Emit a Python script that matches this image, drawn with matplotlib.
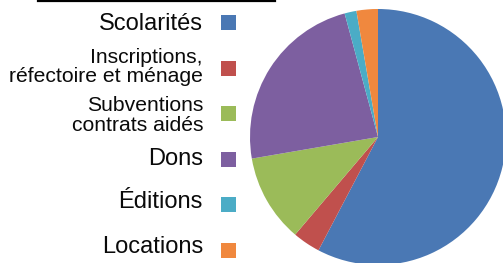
import matplotlib
matplotlib.use("Agg")
import matplotlib.pyplot as plt
from matplotlib.patches import Rectangle
from matplotlib.lines import Line2D

categories = ["Scolarités", "Inscriptions,\nréfectoire et ménage", "Subventions\ncontrats aidés",
              "Dons", "Éditions", "Locations"]
values = [57.7, 3.5, 11.1, 23.5, 1.5, 2.7]
colors = ["#4A78B4", "#C0504D", "#9BBB59", "#7D5FA0", "#4BACC6", "#F0883E"]

W, H = 503, 263
fig = plt.figure(figsize=(W / 100, H / 100), dpi=100)
plt.rcParams['font.family'] = ['Liberation Sans', 'DejaVu Sans']

# pie
cx, cy, r = 378, 137, 128
ax = fig.add_axes([(cx - r) / W, (H - cy - r) / H, 2 * r / W, 2 * r / H])
ax.pie(values, colors=colors, startangle=90, counterclock=False, radius=1,
       wedgeprops=dict(linewidth=0))
ax.set_xlim(-1, 1)
ax.set_ylim(-1, 1)
ax.set_aspect('equal')
ax.axis('off')

# top rule
fig.add_artist(Line2D([38 / W, 275 / W], [1 - 1 / H, 1 - 1 / H], color='black', lw=1.6,
                      transform=fig.transFigure))

# legend
baselines = [[30.5], [63, 82], [111, 131], [165], [208], [253]]
square_centers = [22.5, 68.5, 113.5, 159, 204, 250.5]
text_right = 203
sq = 15
for lab, bls, sc, col in zip(categories, baselines, square_centers, colors):
    lines = lab.split("\n")
    size = 17 if len(lines) == 1 else 15.2
    for ln, bl in zip(lines, bls):
        fig.text(text_right / W, 1 - bl / H, ln, ha='right', va='baseline',
                 fontsize=size, color='#0a0a0a')
    fig.add_artist(Rectangle((221 / W, 1 - (sc + sq / 2) / H), sq / W, sq / H,
                             color=col, transform=fig.transFigure, lw=0))

fig.savefig("out.png", dpi=100)
